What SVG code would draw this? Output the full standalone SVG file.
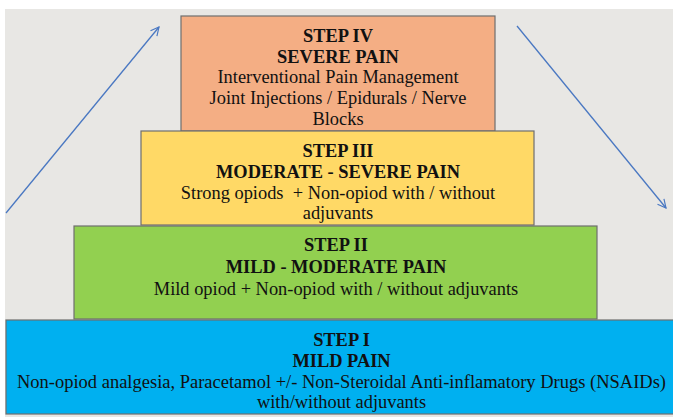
<svg xmlns="http://www.w3.org/2000/svg" width="673" height="417" viewBox="0 0 673 417">
<defs>
<style>
.box{stroke:#6e6e6e;stroke-width:1.2}
.t{font-family:"Liberation Serif","Times New Roman",serif;font-size:18.4px;fill:#111;text-anchor:middle}
.b{font-weight:bold}
.arr{stroke:#4a78c2;stroke-width:1.3;fill:none;marker-end:url(#ah)}
</style>
<marker id="ah" viewBox="0 0 12 12" refX="11" refY="6" markerWidth="10" markerHeight="10" markerUnits="userSpaceOnUse" orient="auto">
<path d="M1,1 L11,6 L1,11" fill="none" stroke="#4a78c2" stroke-width="1.4"/>
</marker>
</defs>
<rect x="0" y="0" width="673" height="417" fill="#ffffff"/>
<rect x="5" y="9" width="668" height="408" fill="#e8e7e4"/>
<g id="connectors">
<line class="arr" x1="6" y1="213" x2="159" y2="27"/>
<line class="arr" x1="517" y1="26" x2="666" y2="208"/>
</g>
<g id="step4">
<rect class="box" x="181" y="16" width="314" height="115" fill="#f4ae84"/>
<text class="t b" x="338" y="42">STEP IV</text>
<text class="t b" x="338" y="63">SEVERE PAIN</text>
<text class="t" x="338" y="83">Interventional Pain Management</text>
<text class="t" x="338" y="104">Joint Injections / Epidurals / Nerve</text>
<text class="t" x="338" y="125">Blocks</text>
</g>
<g id="step3">
<rect class="box" x="141" y="131" width="393" height="94" fill="#ffd966"/>
<text class="t b" x="338" y="157">STEP III</text>
<text class="t b" x="338" y="178">MODERATE - SEVERE PAIN</text>
<text class="t" x="338" y="199" xml:space="preserve">Strong opiods  + Non-opiod with / without</text>
<text class="t" x="338" y="219">adjuvants</text>
</g>
<g id="step2">
<rect class="box" x="74" y="226" width="523" height="93" fill="#92d050"/>
<text class="t b" x="336" y="251">STEP II</text>
<text class="t b" x="336" y="273">MILD - MODERATE PAIN</text>
<text class="t" x="336" y="295">Mild opiod + Non-opiod with / without adjuvants</text>
</g>
<g id="step1">
<rect class="box" x="6" y="320" width="672" height="94" fill="#00b0f0"/>
<text class="t b" x="341.5" y="346">STEP I</text>
<text class="t b" x="341.5" y="367">MILD PAIN</text>
<text class="t" x="341.5" y="388" textLength="649" lengthAdjust="spacingAndGlyphs">Non-opiod analgesia, Paracetamol +/- Non-Steroidal Anti-inflamatory Drugs (NSAIDs)</text>
<text class="t" x="341.5" y="408">with/without adjuvants</text>
</g>
</svg>
